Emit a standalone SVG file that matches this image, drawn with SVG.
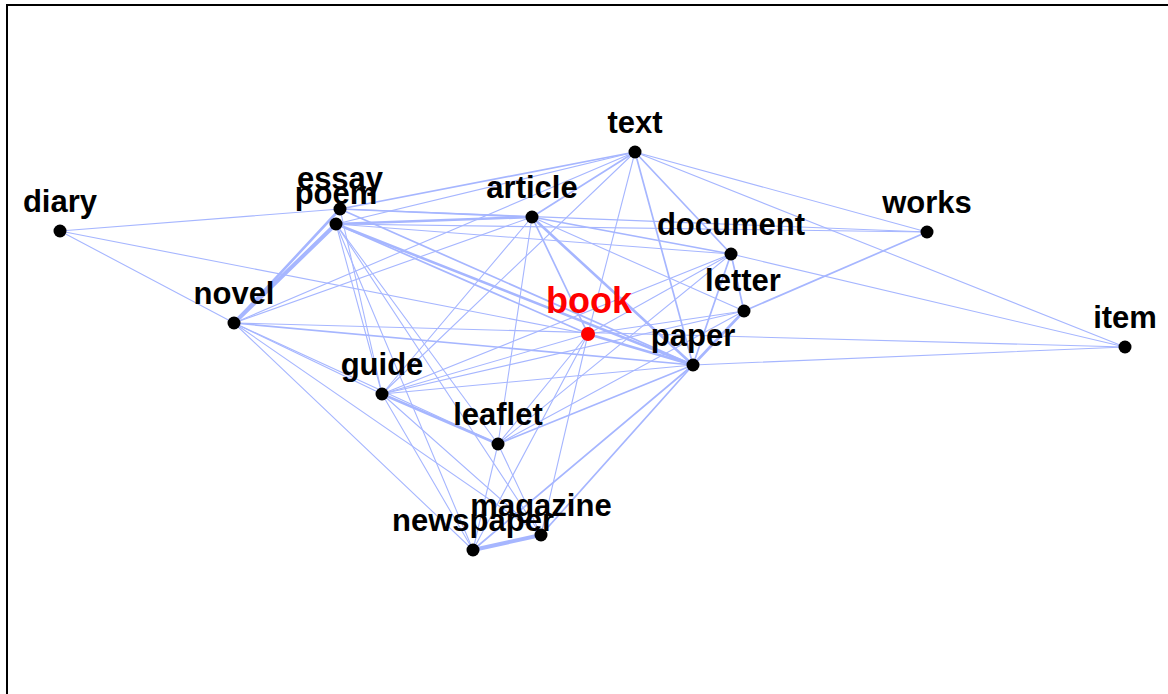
<svg xmlns="http://www.w3.org/2000/svg" width="1168" height="694" viewBox="0 0 1168 694">
<style>
.edges line{stroke:#a6b6ff;fill:none;stroke-linecap:round}
.w1{stroke-width:1.1}
.w2{stroke-width:1.7}
.w3{stroke-width:2.6}
.w4{stroke-width:4}
.node circle{fill:#000}
.node text{font-family:"Liberation Sans",Arial,sans-serif;font-weight:bold;font-size:31px;text-anchor:middle;fill:#000}
#node-book circle{fill:#ff0000}
#node-book text{fill:#ff0000;font-size:36px}
</style>
<rect x="7" y="5" width="1200" height="720" fill="#fff" stroke="#000" stroke-width="2"/>
<g id="connectors" class="edges">
<line class="w1" x1="60" y1="231" x2="340" y2="209"/>
<line class="w1" x1="60" y1="231" x2="588" y2="334"/>
<line class="w1" x1="60" y1="231" x2="234" y2="323"/>
<line class="w4" x1="234" y1="323" x2="336" y2="224"/>
<line class="w3" x1="234" y1="323" x2="340" y2="209"/>
<line class="w1" x1="234" y1="323" x2="635" y2="152"/>
<line class="w1" x1="234" y1="323" x2="532" y2="217"/>
<line class="w1" x1="234" y1="323" x2="1125" y2="347"/>
<line class="w2" x1="234" y1="323" x2="693" y2="365"/>
<line class="w1" x1="234" y1="323" x2="382" y2="394"/>
<line class="w1" x1="234" y1="323" x2="498" y2="444"/>
<line class="w1" x1="234" y1="323" x2="473" y2="550"/>
<line class="w1" x1="234" y1="323" x2="541" y2="535"/>
<line class="w2" x1="340" y1="209" x2="532" y2="217"/>
<line class="w3" x1="336" y1="224" x2="532" y2="217"/>
<line class="w2" x1="340" y1="209" x2="635" y2="152"/>
<line class="w1" x1="336" y1="224" x2="635" y2="152"/>
<line class="w1" x1="340" y1="209" x2="927" y2="232"/>
<line class="w1" x1="336" y1="224" x2="927" y2="232"/>
<line class="w1" x1="336" y1="224" x2="731" y2="254"/>
<line class="w2" x1="336" y1="224" x2="588" y2="334"/>
<line class="w3" x1="336" y1="224" x2="693" y2="365"/>
<line class="w2" x1="340" y1="209" x2="693" y2="365"/>
<line class="w1" x1="336" y1="224" x2="382" y2="394"/>
<line class="w1" x1="340" y1="209" x2="382" y2="394"/>
<line class="w1" x1="336" y1="224" x2="498" y2="444"/>
<line class="w1" x1="336" y1="224" x2="473" y2="550"/>
<line class="w1" x1="336" y1="224" x2="541" y2="535"/>
<line class="w2" x1="532" y1="217" x2="635" y2="152"/>
<line class="w2" x1="532" y1="217" x2="731" y2="254"/>
<line class="w2" x1="532" y1="217" x2="588" y2="334"/>
<line class="w3" x1="532" y1="217" x2="693" y2="365"/>
<line class="w1" x1="532" y1="217" x2="744" y2="311"/>
<line class="w1" x1="532" y1="217" x2="382" y2="394"/>
<line class="w1" x1="532" y1="217" x2="498" y2="444"/>
<line class="w2" x1="635" y1="152" x2="731" y2="254"/>
<line class="w2" x1="635" y1="152" x2="693" y2="365"/>
<line class="w1" x1="635" y1="152" x2="588" y2="334"/>
<line class="w1" x1="635" y1="152" x2="927" y2="232"/>
<line class="w1" x1="635" y1="152" x2="1125" y2="347"/>
<line class="w1" x1="635" y1="152" x2="382" y2="394"/>
<line class="w2" x1="731" y1="254" x2="744" y2="311"/>
<line class="w2" x1="731" y1="254" x2="693" y2="365"/>
<line class="w1" x1="731" y1="254" x2="588" y2="334"/>
<line class="w1" x1="731" y1="254" x2="1125" y2="347"/>
<line class="w1" x1="731" y1="254" x2="382" y2="394"/>
<line class="w1" x1="731" y1="254" x2="498" y2="444"/>
<line class="w2" x1="744" y1="311" x2="927" y2="232"/>
<line class="w3" x1="744" y1="311" x2="693" y2="365"/>
<line class="w1" x1="744" y1="311" x2="588" y2="334"/>
<line class="w1" x1="744" y1="311" x2="382" y2="394"/>
<line class="w1" x1="744" y1="311" x2="498" y2="444"/>
<line class="w3" x1="588" y1="334" x2="693" y2="365"/>
<line class="w1" x1="588" y1="334" x2="382" y2="394"/>
<line class="w1" x1="588" y1="334" x2="498" y2="444"/>
<line class="w1" x1="588" y1="334" x2="473" y2="550"/>
<line class="w1" x1="588" y1="334" x2="541" y2="535"/>
<line class="w1" x1="693" y1="365" x2="1125" y2="347"/>
<line class="w1" x1="693" y1="365" x2="382" y2="394"/>
<line class="w2" x1="693" y1="365" x2="498" y2="444"/>
<line class="w2" x1="693" y1="365" x2="473" y2="550"/>
<line class="w2" x1="693" y1="365" x2="541" y2="535"/>
<line class="w3" x1="382" y1="394" x2="498" y2="444"/>
<line class="w1" x1="382" y1="394" x2="473" y2="550"/>
<line class="w1" x1="382" y1="394" x2="541" y2="535"/>
<line class="w1" x1="498" y1="444" x2="473" y2="550"/>
<line class="w1" x1="498" y1="444" x2="541" y2="535"/>
<line class="w4" x1="473" y1="550" x2="541" y2="535"/>
</g>
<g id="node-diary" class="node"><circle cx="60" cy="231" r="6.5"/><text x="60" y="212">diary</text></g>
<g id="node-essay" class="node"><circle cx="340" cy="209" r="6.5"/><text x="340" y="189">essay</text></g>
<g id="node-poem" class="node"><circle cx="336" cy="224" r="6.5"/><text x="336" y="204">poem</text></g>
<g id="node-text" class="node"><circle cx="635" cy="152" r="6.5"/><text x="635" y="133">text</text></g>
<g id="node-article" class="node"><circle cx="532" cy="217" r="6.5"/><text x="532" y="198">article</text></g>
<g id="node-works" class="node"><circle cx="927" cy="232" r="6.5"/><text x="927" y="213">works</text></g>
<g id="node-document" class="node"><circle cx="731" cy="254" r="6.5"/><text x="731" y="235">document</text></g>
<g id="node-letter" class="node"><circle cx="744" cy="311" r="6.5"/><text x="743" y="291">letter</text></g>
<g id="node-novel" class="node"><circle cx="234" cy="323" r="6.5"/><text x="234" y="304">novel</text></g>
<g id="node-paper" class="node"><circle cx="693" cy="365" r="6.5"/><text x="693" y="346">paper</text></g>
<g id="node-item" class="node"><circle cx="1125" cy="347" r="6.5"/><text x="1125" y="328">item</text></g>
<g id="node-guide" class="node"><circle cx="382" cy="394" r="6.5"/><text x="382" y="375">guide</text></g>
<g id="node-leaflet" class="node"><circle cx="498" cy="444" r="6.5"/><text x="498" y="425">leaflet</text></g>
<g id="node-magazine" class="node"><circle cx="541" cy="535" r="6.5"/><text x="541" y="516">magazine</text></g>
<g id="node-newspaper" class="node"><circle cx="473" cy="550" r="6.5"/><text x="473" y="531">newspaper</text></g>
<g id="node-book" class="node"><circle cx="588" cy="334" r="7"/><text x="589" y="313">book</text></g>
</svg>
